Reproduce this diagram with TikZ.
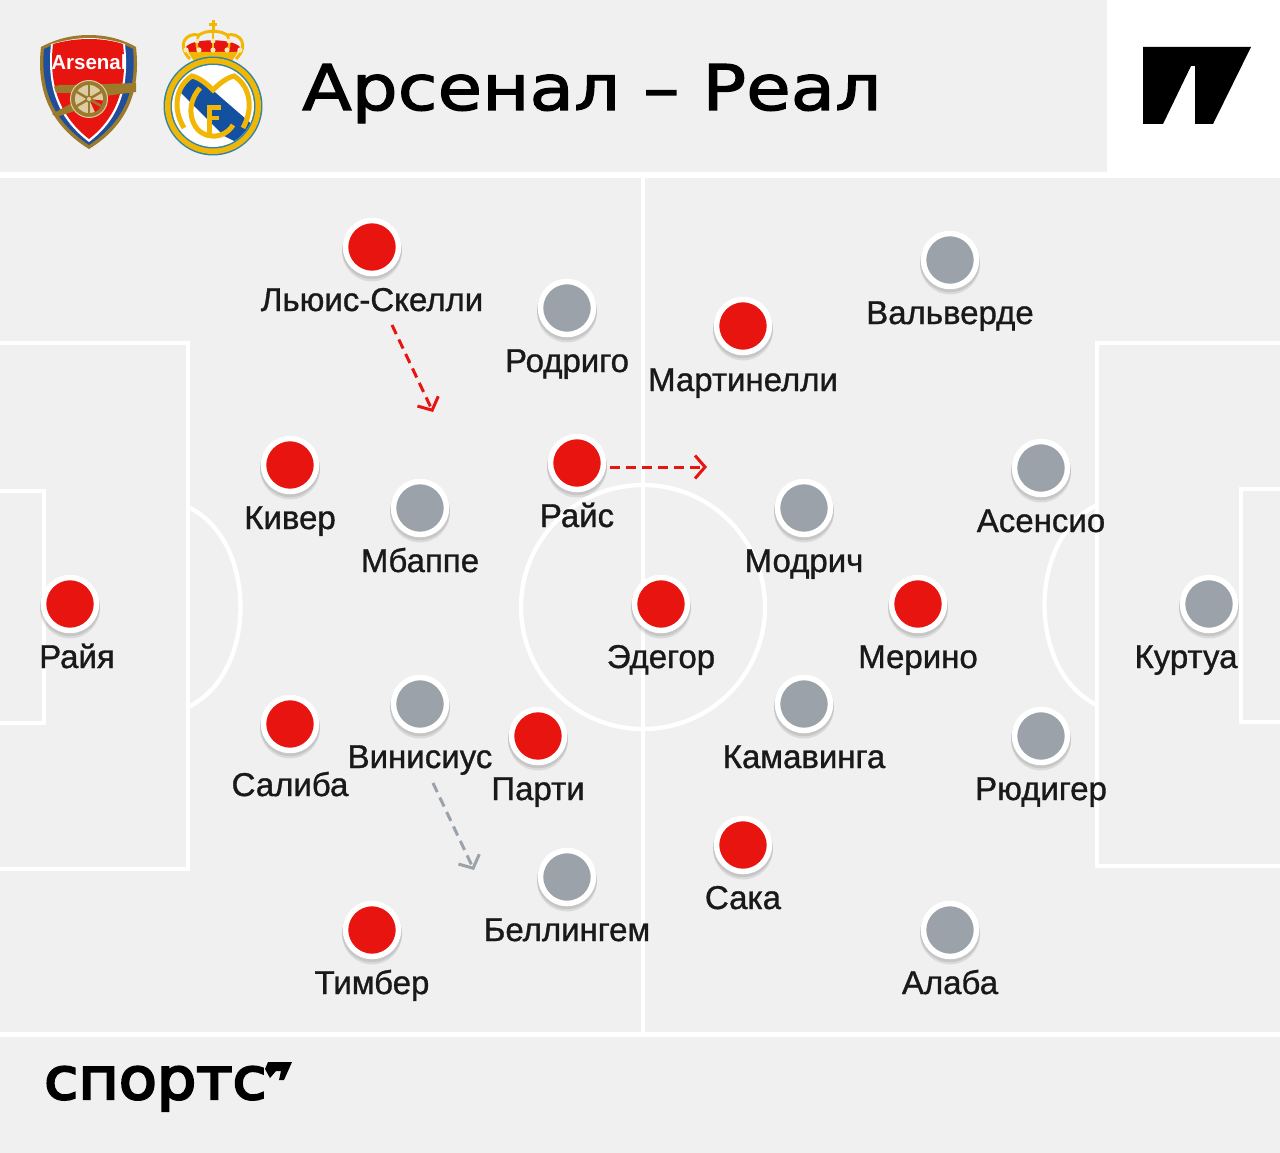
\documentclass[tikz,border=0pt]{standalone}
\usepackage{fontspec}
\setmainfont{Liberation Sans}
\newfontfamily\labelfont[FakeBold=1]{Liberation Sans}
\newfontfamily\titlefont[FakeBold=2,FakeStretch=1.15]{DejaVu Sans}
\newfontfamily\brandfont[FakeBold=4,FakeStretch=1.07]{DejaVu Sans}
\newfontfamily\clubfont{Liberation Sans Bold}
\usetikzlibrary{arrows.meta,shadows}

\definecolor{pitchbg}{HTML}{F0F0F0}
\definecolor{redplayer}{HTML}{E81410}
\definecolor{grayplayer}{HTML}{9BA2A9}
\definecolor{clubgold}{HTML}{9C7A2C}
\definecolor{clubtan}{HTML}{DCCDA6}
\definecolor{clubblue}{HTML}{1F4E9C}
\definecolor{rmgold}{HTML}{F2B705}
\definecolor{rmblue}{HTML}{1450A0}
\definecolor{rmedge}{HTML}{2F86A8}

\tikzset{
  dotred/.style={circle, draw=white, line width=5.5pt, fill=redplayer, minimum size=53pt, inner sep=0pt,
    double copy shadow={shadow scale=1.13, shadow xshift=0pt, shadow yshift=-2pt, fill=black, draw=none, opacity=0.09}},
  dotgray/.style={dotred, fill=grayplayer},
  namelabel/.style={font=\labelfont\fontsize{33}{33}\selectfont, text=black!90, inner sep=0pt, anchor=base},
  fieldline/.style={draw=white, line width=4.3pt},
  runred/.style={draw=redplayer, line width=3pt, dash pattern=on 10pt off 6pt, -{Straight Barb[length=10pt,width=23pt,line width=3pt]}},
  rungray/.style={runred, draw=grayplayer}
}

\begin{document}
\begin{tikzpicture}[x=1pt, y=-1pt]
\useasboundingbox (0,0) rectangle (1280,1153);
\fill[pitchbg] (0,0) rectangle (1280,1153);

% header and footer
\fill[white] (1107,0) rectangle (1280,172);
\fill[white] (0,172) rectangle (1280,178);
\fill[white] (0,1032) rectangle (1280,1037);
\fill[black] (1143,47) -- (1251,47) -- (1213,124) -- (1195,124) -- (1195,66) -- (1191,66) -- (1163,124) -- (1143,124) -- cycle;
\node[font=\titlefont\fontsize{63}{63}\selectfont, text=black, inner sep=0pt, anchor=base west] (title) at (302,110) {Арсенал – Реал};
\node[font=\brandfont\fontsize{58}{58}\selectfont, text=black, inner sep=0pt, anchor=base west] (brand) at (44,1099) {спортс};
\fill[black] (268,1062) -- (292,1062) -- (284,1080) -- (279,1080) -- (281,1071) -- (276,1071) -- (270,1078) -- (265,1069) -- cycle;

% field
\draw[fieldline] (643,175) -- (643,1034);
\draw[fieldline] (643,607) circle (122);
\draw[fieldline] (0,343) -- (188,343) -- (188,869) -- (0,869);
\draw[fieldline] (0,491) -- (44,491) -- (44,723) -- (0,723);
\draw[fieldline] (188,507) .. controls (258,540) and (258,674) .. (188,707);
\draw[fieldline] (1280,343) -- (1097,343) -- (1097,866) -- (1280,866);
\draw[fieldline] (1280,489) -- (1241,489) -- (1241,722) -- (1280,722);
\draw[fieldline] (1097,505) .. controls (1027,538) and (1027,672) .. (1097,705);

% arsenal badge
\fill[clubgold] (41,47) .. controls (56,39) and (72,35) .. (89,35) .. controls (106,35) and (122,39) .. (136,47) .. controls (141,90) and (128,125) .. (89,149) .. controls (50,125) and (36,90) .. (41,47) -- cycle;
\fill[clubblue] (44,49) .. controls (58,42) and (74,39) .. (89,39) .. controls (104,39) and (120,42) .. (133,49) .. controls (137,90) and (124,122) .. (89,145) .. controls (54,122) and (40,90) .. (44,49) -- cycle;
\fill[white] (51,44) .. controls (62,41) and (76,38) .. (89,38) .. controls (102,38) and (116,41) .. (125,44) .. controls (130,90) and (118,120) .. (89,142) .. controls (60,120) and (46,90) .. (51,44) -- cycle;
\fill[redplayer] (53,44) .. controls (64,41) and (76,39) .. (89,39) .. controls (102,39) and (114,41) .. (123,44) .. controls (128,88) and (116,118) .. (89,139) .. controls (62,118) and (48,88) .. (53,44) -- cycle;
\node[font=\clubfont\fontsize{20.5}{20.5}\selectfont, text=white, inner sep=0pt] (arsenal) at (89,62) {Arsenal};
\fill[clubgold] (54,87) .. controls (58,84) and (66,85) .. (75,85) -- (136,83) -- (136,92) -- (105,96) -- (72,112) -- (56,117) -- (52,114) -- (72,103) -- (72,93) -- (56,93) -- cycle;
\filldraw[draw=clubtan, line width=1pt, fill=clubgold] (89,99) circle (18.5);
\fill[clubtan] (89,99) circle (14);
\fill[redplayer] (89,99) -- (95,112) arc (65:5:14) -- cycle;
\foreach \a in {30,90,150,210,270,330}
  \draw[clubgold, line width=2.5pt] (89,99) -- ++(\a:14);
\filldraw[draw=clubgold, fill=clubtan, line width=1.5pt] (89,99) circle (3);

% real madrid badge
\fill[redplayer] (186,47) .. controls (192,38) and (232,38) .. (240,47) -- (236,53) -- (190,53) -- cycle;
\draw[rmgold, line width=3pt] (190,59) .. controls (176,45) and (186,32) .. (199,35) .. controls (206,30) and (220,30) .. (227,35) .. controls (240,32) and (250,45) .. (236,59);
\draw[rmgold, line width=2.5pt] (213,31) -- (213,50);
\draw[rmgold, line width=2.5pt] (199,35) .. controls (195,42) and (197,50) .. (200,54);
\draw[rmgold, line width=2.5pt] (227,35) .. controls (231,42) and (229,50) .. (226,54);
\fill[rmgold] (188,52) -- (238,52) -- (232,61) -- (194,61) -- cycle;
\fill[rmgold] (211.5,20) rectangle (214.5,30);
\fill[rmgold] (209,23) rectangle (217,26);
\foreach \x in {186,199,213,227,240}
  \fill[white!70!rmgold] (\x,50) circle (2.6);
\foreach \x in {197,213,229}
  \fill[white!70!rmgold] (\x,41) circle (2.4);
\fill[rmedge] (213,106) circle (49.5);
\fill[rmgold] (213,106) circle (48);
\fill[rmedge] (213,106) circle (42.5);
\fill[white] (213,106) circle (41);
\begin{scope}
\clip (213,106) circle (41);
\fill[rmblue] (180,92) -- (194,74) -- (254,126) -- (240,144) -- (224,136) -- cycle;
\end{scope}
\draw[rmgold, line width=5pt] (184,128) .. controls (172,108) and (176,86) .. (192,76) .. controls (200,78) and (207,84) .. (213,90) .. controls (219,84) and (226,78) .. (234,76) .. controls (250,86) and (254,108) .. (243,128);
\draw[rmgold, line width=5pt] (233,125) .. controls (224,140) and (202,140) .. (194,124) .. controls (188,112) and (191,98) .. (200,88);
\draw[rmgold, line width=5pt] (209,137) -- (209,107.5) -- (221,107.5);
\draw[rmgold, line width=4.5pt] (209,118) -- (219,118);

% players, red team
\node[dotred] (lewisdot) at (372,247) {};
\node[namelabel] (lewis) at (372,311) {Льюис-Скелли};
\node[dotred] (martinellidot) at (743,326) {};
\node[namelabel] (martinelli) at (743,391) {Мартинелли};
\node[dotred] (kiverdot) at (290,465) {};
\node[namelabel] (kiver) at (290,529) {Кивер};
\node[dotred] (ricedot) at (577,463) {};
\node[namelabel] (rice) at (577,527) {Райс};
\node[dotred] (odegaarddot) at (661,604) {};
\node[namelabel] (odegaard) at (661,668) {Эдегор};
\node[dotred] (merinodot) at (918,604) {};
\node[namelabel] (merino) at (918,668) {Мерино};
\node[dotred] (rayadot) at (70,604) {};
\node[namelabel] (raya) at (77,668) {Райя};
\node[dotred] (salibadot) at (290,724) {};
\node[namelabel] (saliba) at (290,796) {Салиба};
\node[dotred] (parteydot) at (538,736) {};
\node[namelabel] (partey) at (538,800) {Парти};
\node[dotred] (sakadot) at (743,845) {};
\node[namelabel] (saka) at (743,909) {Сака};
\node[dotred] (timberdot) at (372,930) {};
\node[namelabel] (timber) at (372,994) {Тимбер};

% players, gray team
\node[dotgray] (rodrygodot) at (567,308) {};
\node[namelabel] (rodrygo) at (567,372) {Родриго};
\node[dotgray] (valverdedot) at (950,260) {};
\node[namelabel] (valverde) at (950,324) {Вальверде};
\node[dotgray] (mbappedot) at (420,508) {};
\node[namelabel] (mbappe) at (420,572) {Мбаппе};
\node[dotgray] (asensiodot) at (1041,468) {};
\node[namelabel] (asensio) at (1041,532) {Асенсио};
\node[dotgray] (modricdot) at (804,508) {};
\node[namelabel] (modric) at (804,572) {Модрич};
\node[dotgray] (courtoisdot) at (1209,604) {};
\node[namelabel] (courtois) at (1186,668) {Куртуа};
\node[dotgray] (viniciusdot) at (420,704) {};
\node[namelabel] (vinicius) at (420,768) {Винисиус};
\node[dotgray] (camavingadot) at (804,704) {};
\node[namelabel] (camavinga) at (804,768) {Камавинга};
\node[dotgray] (rudigerdot) at (1041,736) {};
\node[namelabel] (rudiger) at (1041,800) {Рюдигер};
\node[dotgray] (bellinghamdot) at (567,877) {};
\node[namelabel] (bellingham) at (567,941) {Беллингем};
\node[dotgray] (alabadot) at (950,930) {};
\node[namelabel] (alaba) at (950,994) {Алаба};

% runs
\coordinate (lewisfrom) at (392,325);
\coordinate (lewisrun) at (433,412);
\coordinate (ricefrom) at (610,467);
\coordinate (ricerun) at (707,467);
\coordinate (viniciusfrom) at (433,783);
\coordinate (viniciusrun) at (474,870);
\draw[runred] (lewisfrom) -- (lewisrun);
\draw[runred] (ricefrom) -- (ricerun);
\draw[rungray] (viniciusfrom) -- (viniciusrun);
\end{tikzpicture}
\end{document}
